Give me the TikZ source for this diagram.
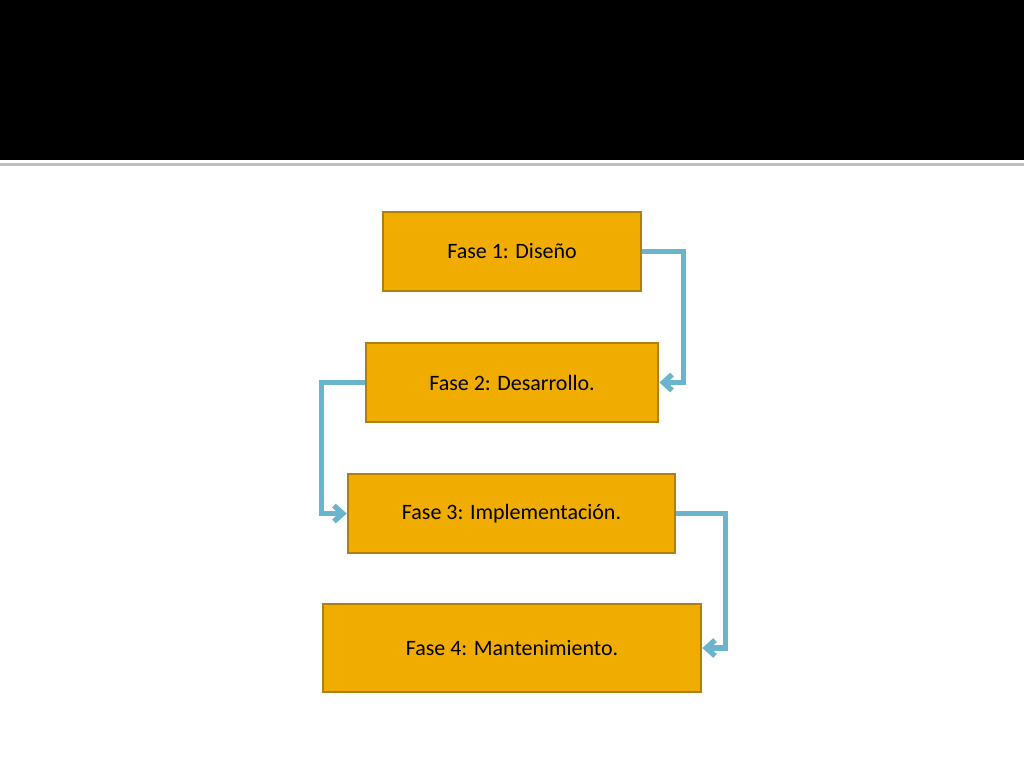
\documentclass[tikz,border=0pt]{standalone}
\usepackage{fontspec}
\setmainfont{Carlito}
\usetikzlibrary{arrows.meta}
\definecolor{fasefill}{HTML}{F0AD00}
\definecolor{faseline}{HTML}{B07F10}
\definecolor{flecha}{HTML}{6AB4CE}
\tikzset{
  fase/.style={draw=faseline, line width=1.5pt, fill=fasefill, inner sep=0pt,
    font=\fontsize{12.5}{14}\selectfont},
  flujo/.style={flecha, line width=3pt, -{Straight Barb[length=5pt,width=9pt]}}
}
\begin{document}
\begin{tikzpicture}[x=0.02cm, y=-0.02cm]
  \useasboundingbox (0,0) rectangle (1024,768);
  \fill[black] (0,0) rectangle (1024,160);
  \fill[black!25] (0,163) rectangle (1024,166);

  \node[fase, minimum width=258*0.02cm, minimum height=79*0.02cm] (f1) at (512,251.5) {Fase 1: Diseño};
  \node[fase, minimum width=292*0.02cm, minimum height=79*0.02cm] (f2) at (512,382.5) {Fase 2: Desarrollo.};
  \node[fase, minimum width=327*0.02cm, minimum height=79*0.02cm] (f3) at (511.5,513.5) {Fase 3: Implementación.};
  \node[fase, minimum width=378*0.02cm, minimum height=88*0.02cm] (f4) at (512,648) {Fase 4: Mantenimiento.};

  \draw[flujo] (f1.east) -- ++(41,0) |- (f2.east);
  \draw[flujo] (f2.west) -- ++(-43,0) |- (f3.west);
  \draw[flujo] (f3.east) -- ++(49,0) |- (f4.east);
\end{tikzpicture}
\end{document}
